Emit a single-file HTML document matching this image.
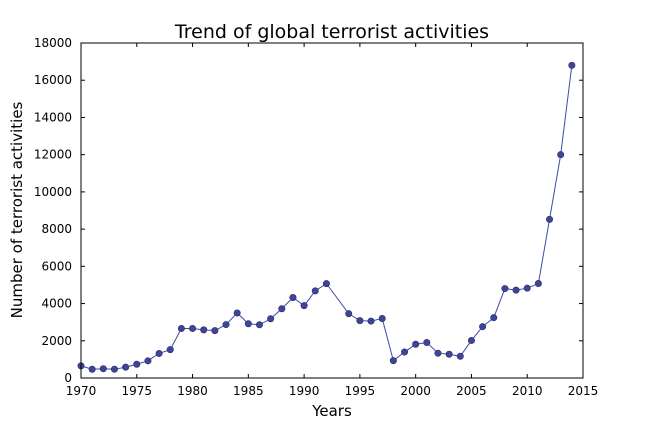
<!DOCTYPE html>
<html><head><meta charset="utf-8"><style>
html,body{margin:0;padding:0;background:#fff;}
svg text{font-family:"DejaVu Sans","Liberation Sans",sans-serif;}
</style></head><body>
<svg id="chart" width="648" height="432" viewBox="0 0 648 432" xmlns="http://www.w3.org/2000/svg">
<rect width="648" height="432" fill="#fff"/>
<text x="332" y="38" text-anchor="middle" font-size="19">Trend of global terrorist activities</text>
<text x="332" y="416" text-anchor="middle" font-size="15">Years</text>
<text transform="translate(22,210) rotate(-90)" text-anchor="middle" font-size="15">Number of terrorist activities</text>
<g id="axes"></g>
<g id="series"></g>
<rect x="81" y="43" width="502" height="335" fill="none" stroke="#000" stroke-width="1"/>
</svg>
<script>
const years=[1970,1971,1972,1973,1974,1975,1976,1977,1978,1979,1980,1981,1982,1983,1984,1985,1986,1987,1988,1989,1990,1991,1992,1994,1995,1996,1997,1998,1999,2000,2001,2002,2003,2004,2005,2006,2007,2008,2009,2010,2011,2012,2013,2014];
const counts=[651,471,500,473,581,740,923,1319,1526,2662,2662,2586,2544,2870,3495,2915,2860,3183,3721,4324,3887,4683,5071,3456,3081,3058,3197,934,1395,1814,1906,1333,1278,1166,2017,2758,3242,4805,4721,4826,5076,8522,12000,16800];
const xTicks=[1970,1975,1980,1985,1990,1995,2000,2005,2010,2015];
const yTicks=[0,2000,4000,6000,8000,10000,12000,14000,16000,18000];
const L=81,R=583,T=43,B=378;
const x=v=>L+(v-1970)/(2015-1970)*(R-L);
const y=v=>B-v/18000*(B-T);
const NS="http://www.w3.org/2000/svg";
const axes=document.getElementById('axes'),ser=document.getElementById('series');
function mk(tag,attrs,parent){const e=document.createElementNS(NS,tag);for(const k in attrs)e.setAttribute(k,attrs[k]);parent.appendChild(e);return e;}
xTicks.forEach(t=>{
 const g=mk('g',{},axes);
 
 
 mk('line',{x1:x(t),x2:x(t),y1:B,y2:B-4,stroke:'#000'},g);
 mk('line',{x1:x(t),x2:x(t),y1:T,y2:T+4,stroke:'#000'},g);
 const tx=mk('text',{x:x(t),y:B+17,'text-anchor':'middle','font-size':'12'},g);tx.textContent=t;
});
yTicks.forEach(t=>{
 const g=mk('g',{},axes);
 
 
 mk('line',{x1:L,x2:L+4,y1:y(t),y2:y(t),stroke:'#000'},g);
 mk('line',{x1:R,x2:R-4,y1:y(t),y2:y(t),stroke:'#000'},g);
 const tx=mk('text',{x:L-9,y:y(t)+4,'text-anchor':'end','font-size':'12'},g);tx.textContent=t;
});
const pts=years.map((yr,i)=>x(yr)+','+y(counts[i])).join(' ');
const pl=mk('polyline',{points:pts,fill:'none',stroke:'#3b4ba8','stroke-width':'1'},ser);


years.forEach((yr,i)=>{
 const c=mk('circle',{cx:x(yr),cy:y(counts[i]),r:3.2,fill:'#3f4596',stroke:'#2a2f6e','stroke-width':'0.6'},ser);
 
 
});
</script>
</body></html>
